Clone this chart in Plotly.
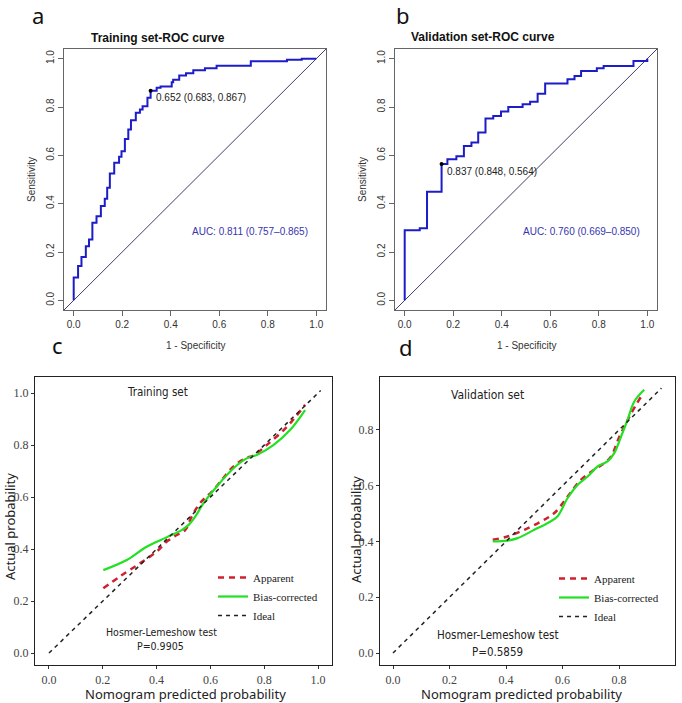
import plotly.graph_objects as go

W, H = 682, 703

# ---------------- data ----------------
# ROC training (1 - specificity, sensitivity) step corners
train_fpr = [0, 0, 0.018, 0.032, 0.05, 0.063, 0.077, 0.094, 0.112, 0.128, 0.138, 0.149, 0.167,
             0.187, 0.197, 0.211, 0.225, 0.236, 0.256, 0.273, 0.284, 0.304, 0.317, 0.342, 0.358,
             0.404, 0.41, 0.435, 0.463, 0.493, 0.541, 0.589, 0.73, 0.879, 0.94, 1.0]
train_tpr = [0, 0.094, 0.142, 0.179, 0.224, 0.252, 0.321, 0.348, 0.39, 0.42, 0.466, 0.525, 0.569,
             0.594, 0.617, 0.668, 0.707, 0.745, 0.776, 0.79, 0.803, 0.838, 0.867, 0.88, 0.885,
             0.902, 0.913, 0.93, 0.94, 0.952, 0.96, 0.971, 0.989, 0.996, 1.0, 1.0]
train_cut = (0.317, 0.867)
train_cut_label = "0.652 (0.683, 0.867)"
train_auc_label = "AUC: 0.811 (0.757\u20130.865)"

# ROC validation
val_fpr = [0, 0, 0.062, 0.092, 0.152, 0.176, 0.213, 0.244, 0.275, 0.303, 0.333, 0.365, 0.397,
           0.427, 0.486, 0.517, 0.548, 0.579, 0.671, 0.70, 0.727, 0.792, 0.82, 0.943, 1.0]
val_tpr = [0, 0.29, 0.298, 0.449, 0.564, 0.584, 0.596, 0.639, 0.653, 0.694, 0.752, 0.763, 0.781,
           0.80, 0.811, 0.822, 0.855, 0.897, 0.915, 0.928, 0.949, 0.96, 0.97, 0.99, 1.0]
val_cut = (0.152, 0.564)
val_cut_label = "0.837 (0.848, 0.564)"
val_auc_label = "AUC: 0.760 (0.669\u20130.850)"

# Calibration training
c_app_x = [0.202, 0.264, 0.338, 0.40, 0.437, 0.475, 0.506, 0.53, 0.561, 0.611, 0.685, 0.729, 0.76, 0.809, 0.884, 0.952]
c_app_y = [0.249, 0.295, 0.345, 0.39, 0.428, 0.454, 0.473, 0.524, 0.576, 0.627, 0.717, 0.749, 0.76, 0.80, 0.87, 0.955]
c_bc_x = [0.202, 0.289, 0.363, 0.437, 0.493, 0.518, 0.543, 0.574, 0.623, 0.685, 0.735, 0.772, 0.834, 0.896, 0.952]
c_bc_y = [0.319, 0.358, 0.409, 0.445, 0.473, 0.492, 0.524, 0.576, 0.64, 0.71, 0.749, 0.762, 0.80, 0.858, 0.935]
c_ideal = [0, 1.01]

# Calibration validation
d_app_x = [0.353, 0.405, 0.465, 0.524, 0.571, 0.618, 0.665, 0.712, 0.748, 0.772, 0.801, 0.819, 0.843, 0.878]
d_app_y = [0.406, 0.418, 0.442, 0.472, 0.502, 0.561, 0.621, 0.657, 0.681, 0.705, 0.776, 0.812, 0.86, 0.92]
d_bc_x = [0.353, 0.405, 0.441, 0.50, 0.547, 0.582, 0.618, 0.653, 0.689, 0.724, 0.759, 0.783, 0.807, 0.83, 0.854, 0.889]
d_bc_y = [0.40, 0.403, 0.412, 0.442, 0.466, 0.49, 0.556, 0.603, 0.633, 0.669, 0.687, 0.717, 0.776, 0.836, 0.902, 0.944]
d_ideal = [0, 0.95]

roc_ticks = [0.0, 0.2, 0.4, 0.6, 0.8, 1.0]
roc_ticktext = ["0.0", "0.2", "0.4", "0.6", "0.8", "1.0"]
c_ticks = [0.0, 0.2, 0.4, 0.6, 0.8, 1.0]
d_ticks = [0.0, 0.2, 0.4, 0.6, 0.8]

# ---------------- helpers ----------------
def px(x):
    return x / W

def py(y):
    return 1 - y / H

SANS = "Liberation Sans, Arial, sans-serif"
SERIF = "Liberation Serif, Times New Roman, serif"
UI = "Noto Sans, Open Sans, sans-serif"
NARROW = "Liberation Sans Narrow, DejaVu Sans Condensed, Liberation Sans, sans-serif"

ROC_BLUE = "#1c1cc8"
DIAG = "#3f3f6e"

fig = go.Figure()

# ROC curves
for fpr, tpr, cut, xa, ya in [(train_fpr, train_tpr, train_cut, "x", "y"),
                              (val_fpr, val_tpr, val_cut, "x2", "y2")]:
    fig.add_trace(go.Scatter(x=[-0.04, 1.04], y=[-0.04, 1.04], mode="lines",
                             line=dict(color=DIAG, width=1), xaxis=xa, yaxis=ya,
                             showlegend=False, hoverinfo="skip"))
    fig.add_trace(go.Scatter(x=fpr, y=tpr, mode="lines", line=dict(color=ROC_BLUE, width=2, shape="hv"),
                             xaxis=xa, yaxis=ya, showlegend=False))
    fig.add_trace(go.Scatter(x=[cut[0]], y=[cut[1]], mode="markers",
                             marker=dict(color="black", size=4), xaxis=xa, yaxis=ya, showlegend=False))

# Calibration curves
RED = "#d0202e"
GREEN = "#22e022"
for (ax, ay, bx, by, ideal, xa, ya, lg) in [
        (c_app_x, c_app_y, c_bc_x, c_bc_y, c_ideal, "x3", "y3", "legend"),
        (d_app_x, d_app_y, d_bc_x, d_bc_y, d_ideal, "x4", "y4", "legend2")]:
    fig.add_trace(go.Scatter(x=ax, y=ay, mode="lines", name="Apparent",
                             line=dict(color=RED, width=2.5, dash="6px,5px", shape="spline"),
                             xaxis=xa, yaxis=ya, legend=lg))
    fig.add_trace(go.Scatter(x=bx, y=by, mode="lines", name="Bias-corrected",
                             line=dict(color=GREEN, width=2.2, shape="spline"),
                             xaxis=xa, yaxis=ya, legend=lg))
    fig.add_trace(go.Scatter(x=ideal, y=ideal, mode="lines", name="Ideal",
                             line=dict(color="#222222", width=1.5, dash="4px,4px"),
                             xaxis=xa, yaxis=ya, legend=lg))

roc_axis_common = dict(showgrid=False, zeroline=False, showline=True, mirror=True,
                       linecolor="#666666", linewidth=1, ticks="outside", ticklen=5,
                       tickcolor="#666666", tickfont=dict(family=SANS, size=10, color="#333333"),
                       tickvals=roc_ticks, ticktext=roc_ticktext)
cal_axis_common = dict(showgrid=False, zeroline=False, showline=True, mirror=True,
                       linecolor="#222222", linewidth=1.2, ticks="outside", ticklen=3,
                       tickcolor="#333333", tickfont=dict(family=SERIF, size=12, color="#444444"))

fig.update_layout(
    width=W, height=H, margin=dict(l=0, r=0, t=0, b=0),
    paper_bgcolor="white", plot_bgcolor="white",
    xaxis=dict(domain=[px(64), px(326)], range=[-0.04, 1.04], anchor="y", **roc_axis_common),
    yaxis=dict(domain=[py(310), py(49)], range=[-0.04, 1.04], anchor="x", tickangle=-90, **roc_axis_common),
    xaxis2=dict(domain=[px(395), px(657)], range=[-0.04, 1.04], anchor="y2", **roc_axis_common),
    yaxis2=dict(domain=[py(310), py(49)], range=[-0.04, 1.04], anchor="x2", tickangle=-90, **roc_axis_common),
    xaxis3=dict(domain=[px(35), px(332)], range=[-0.052, 1.052], anchor="y3", tickvals=c_ticks,
                ticktext=["%.1f" % v for v in c_ticks], **cal_axis_common),
    yaxis3=dict(domain=[py(665), py(377)], range=[-0.046, 1.062], anchor="x3", tickvals=c_ticks,
                ticktext=["%.1f" % v for v in c_ticks], **cal_axis_common),
    xaxis4=dict(domain=[px(380), px(675)], range=[-0.046, 0.998], anchor="y4", tickvals=d_ticks,
                ticktext=["%.1f" % v for v in d_ticks], **cal_axis_common),
    yaxis4=dict(domain=[py(665), py(377)], range=[-0.043, 0.99], anchor="x4", tickvals=d_ticks,
                ticktext=["%.1f" % v for v in d_ticks], **cal_axis_common),
    legend=dict(x=px(213), y=py(563), xanchor="left", yanchor="top", bgcolor="rgba(0,0,0,0)",
                font=dict(family=SERIF, size=11, color="#222222"), itemwidth=30, tracegroupgap=0),
    legend2=dict(x=px(554), y=py(564), xanchor="left", yanchor="top", bgcolor="rgba(0,0,0,0)",
                 font=dict(family=SERIF, size=11, color="#222222"), itemwidth=30, tracegroupgap=0),
)

ann = []
def A(text, x, y, size, family, color="#222222", xanchor="center", textangle=0, bold=False):
    if bold:
        text = "<b>" + text + "</b>"
    ann.append(dict(text=text, x=px(x), y=py(y), xref="paper", yref="paper", showarrow=False,
                    xanchor=xanchor, yanchor="middle", textangle=textangle,
                    font=dict(size=size, family=family, color=color)))

# panel labels
A("a", 38, 15, 22, UI, "#111111")
A("b", 403, 15, 22, UI, "#111111")
A("c", 57, 345, 22, UI, "#111111")
A("d", 406, 347, 22, UI, "#111111")

# ROC titles and axis titles
A("Training set-ROC curve", 158, 38, 12, SANS, "#111111", bold=True)
A("Validation set-ROC curve", 483, 37, 12, SANS, "#111111", bold=True)
A("Sensitivity", 32, 180, 10, SANS, "#333333", textangle=-90)
A("Sensitivity", 363, 180, 10, SANS, "#333333", textangle=-90)
A("1 - Specificity", 195, 345, 10, SANS, "#333333")
A("1 - Specificity", 526, 345, 10, SANS, "#333333")

# ROC cut-off and AUC labels (data coordinates)
for xa, ya, cut, lab, auc in [("x", "y", train_cut, train_cut_label, train_auc_label),
                              ("x2", "y2", val_cut, val_cut_label, val_auc_label)]:
    ann.append(dict(text=lab, x=cut[0], y=cut[1], xref=xa, yref=ya, showarrow=False,
                    xanchor="left", yanchor="middle", xshift=3, yshift=-7,
                    font=dict(size=10, family=SANS, color="#222222")))
    ann.append(dict(text=auc, x=0.727, y=0.285, xref=xa, yref=ya, showarrow=False,
                    xanchor="center", yanchor="middle",
                    font=dict(size=10, family=SANS, color="#3535b0")))

# Calibration texts
A("Training set", 157, 392, 11.5, NARROW, "#222222")
A("Validation set", 487, 395, 12, NARROW, "#222222")
A("Hosmer-Lemeshow test", 161, 632, 10.5, NARROW, "#222222")
A("P=0.9905", 160, 646, 10.5, NARROW, "#222222")
A("Hosmer-Lemeshow test", 497, 635, 11.5, NARROW, "#222222")
A("P=0.5859", 497, 652, 11.5, NARROW, "#222222")
A("Actual probability", 10, 527, 13, UI, "#222222", textangle=-90)
A("Actual probability", 356, 530, 13, UI, "#222222", textangle=-90)
A("Nomogram predicted probability", 185, 694, 13, UI, "#222222")
A("Nomogram predicted probability", 521, 694, 13, UI, "#222222")

fig.update_layout(annotations=ann)
fig.write_html("out.html")
